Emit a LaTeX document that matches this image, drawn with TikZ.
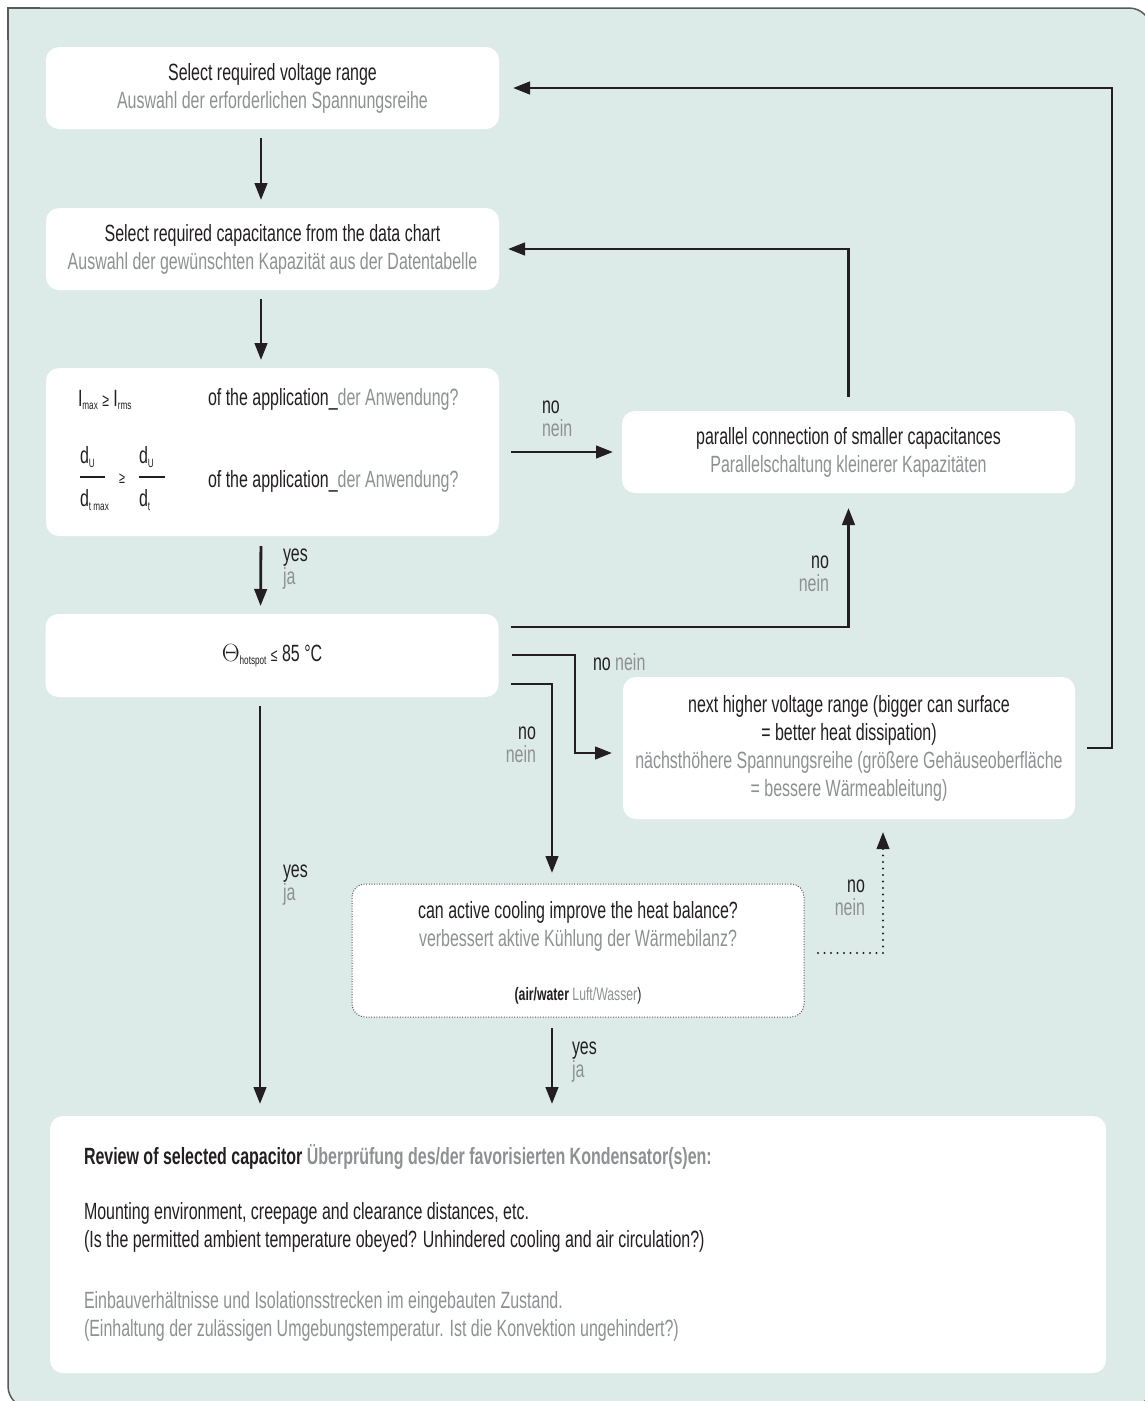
\documentclass[tikz,border=0pt]{standalone}
\usepackage{fontspec}
\setmainfont{Liberation Sans}[FakeStretch=0.68]
\usetikzlibrary{arrows.meta,calc}
\definecolor{panel}{HTML}{DDEBE8}
\definecolor{ink}{HTML}{231F20}
\definecolor{gr}{HTML}{8D9191}
\definecolor{frame}{HTML}{58595B}
\newcommand\mysub[1]{\raisebox{-3.5pt}{\fontsize{12}{12}\selectfont #1}}
\newcommand\gry[1]{\textcolor{gr}{#1}}
\begin{document}
\begin{tikzpicture}[x=1pt,y=-1pt,
  every node/.style={inner sep=0pt, outer sep=0pt, text=ink, font=\fontsize{23.5}{28}\selectfont},
  box/.style={fill=white, rounded corners=13pt, minimum width=453pt, align=center},
  dotbox/.style={box, draw=ink!75, dash pattern=on 1pt off 1.6pt, line width=1pt},
  arr/.style={draw=ink, line width=2.8pt, -{Triangle[width=12.5pt,length=17pt]}},
  dotarr/.style={draw=ink, line width=2.4pt, line cap=round, dash pattern=on 0pt off 6.5pt, -{Triangle[width=12.5pt,length=17pt]}},
  lbl/.style={align=left, font=\fontsize{23.5}{23}\selectfont},
  lblr/.style={align=right, font=\fontsize{23.5}{23}\selectfont},
  small/.style={font=\fontsize{18}{20}\selectfont}
]
\useasboundingbox (0,0) rectangle (1144,1401);
% panel
\draw[draw=frame, fill=panel, line width=1.5pt, rounded corners=22pt] (8,8) rectangle (1151,1408);
\fill[panel] (8.8,8.8) rectangle (40,40);
\draw[frame, line width=1.5pt] (8,40) -- (8,8) -- (40,8);

% boxes
\node[box, minimum height=82pt] (A) at (272.5,88) {Select required voltage range\\\gry{Auswahl der erforderlichen Spannungsreihe}};
\node[box, minimum height=82pt] (B) at (272.5,249) {Select required capacitance from the data chart\\\gry{Auswahl der gewünschten Kapazität aus der Datentabelle}};
\node[box, minimum height=168pt] (C) at (272.5,452) {};
\node[box, minimum height=82pt] (D) at (848.5,452) {parallel connection of smaller capacitances\\\gry{Parallelschaltung kleinerer Kapazitäten}};
\node[box, minimum height=83pt] (F) at (272,655.5) {$\Theta$\mysub{hotspot} {\fontsize{18}{20}\selectfont ≤} 85 °C};
\node[box, minimum height=142pt, minimum width=452pt] (E) at (849,748) {next higher voltage range (bigger can surface\\= better heat dissipation)\\\gry{nächsthöhere Spannungsreihe (größere Gehäuseoberfläche}\\\gry{= bessere Wärmeableitung)}};
\node[dotbox, minimum width=452pt, minimum height=133pt] (G) at (578,950.5) {};
\node[box, minimum width=1056pt, minimum height=257pt] (H) at (578,1244.5) {};

% content of C
\node[anchor=west] (c1) at (78,400) {I\mysub{max} {\fontsize{18}{20}\selectfont ≥} I\mysub{rms}};
\node[anchor=west] (c2) at (208,399) {of the application\_\gry{der Anwendung?}};
\node[anchor=west] (n1) at (80,457) {d\mysub{U}};
\node[anchor=west] (d1) at (80,500) {d\mysub{t max}};
\node (ge) at (122,479) {\fontsize{16}{18}\selectfont ≥};
\node[anchor=west] (n2) at (139,457) {d\mysub{U}};
\node[anchor=west] (d2) at (139,500) {d\mysub{t}};
\draw[ink, line width=2pt] (80,477) -- (105,477);
\draw[ink, line width=2pt] (139,477) -- (165,477);
\node[anchor=west] (c3) at (208,481) {of the application\_\gry{der Anwendung?}};

% content of G
\node[align=center] (g1) at (578,926) {can active cooling improve the heat balance?\\\gry{verbessert aktive Kühlung der Wärmebilanz?}};
\node[small] (g2) at (578,996) {\textbf{(air/water} \gry{Luft/Wasser})};

% content of H
\node[anchor=west] (h1) at (84,1157) {\textbf{Review of selected capacitor \gry{Überprüfung des/der favorisierten Kondensator(s)en:}}};
\node[anchor=west, align=left] (h2) at (84,1227.5) {Mounting environment, creepage and clearance distances, etc.\\(Is the permitted ambient temperature obeyed? Unhindered cooling and air circulation?)};
\node[anchor=west, align=left, text=gr] (h3) at (84,1316) {Einbauverhältnisse und Isolationsstrecken im eingebauten Zustand.\\(Einhaltung der zulässigen Umgebungstemperatur. Ist die Konvektion ungehindert?)};

% bend points
\coordinate (b1) at (575,655);
\coordinate (b2) at (575,753);
\coordinate (b3) at (552,684);
\coordinate (b4) at (883,953);
\coordinate (b5) at (1112,747);

% connectors
\draw[arr, shorten <=9pt, shorten >=8pt] ([xshift=-11.5pt]A.south) -- ([xshift=-11.5pt]B.north);
\draw[arr, shorten <=9pt, shorten >=8pt] ([xshift=-11.5pt]B.south) -- ([xshift=-11.5pt]C.north);
\draw[arr, shorten <=10pt, shorten >=8pt] ([xshift=-11.5pt]C.south) -- ([xshift=-11.5pt]F.north);
\draw[arr, shorten <=12pt, shorten >=9pt] (C.east) -- (D.west);
\draw[arr, shorten <=14pt, shorten >=9pt] (D.north) -- (D.north |- B.east) -- (B.east);
\draw[arr, shorten <=12pt, shorten >=15pt] ([yshift=28.5pt]F.east) -- ([yshift=28.5pt]F.east -| D.south) -- (D.south);
\draw[arr, shorten <=13.5pt, shorten >=11pt] ([yshift=0.5pt]F.east) -- (b1) -- (b2) -- (b2 -| E.west);
\draw[arr, shorten <=12pt, shorten >=11pt] ([yshift=-28.5pt]F.east) -- (b3) -- (b3 |- G.north);
\draw[arr, shorten <=9pt, shorten >=12pt] ([xshift=-12pt]F.south) -- ([xshift=-12pt]F.south |- H.north);
\draw[arr, shorten <=11pt, shorten >=12pt] ([xshift=-26pt]G.south) -- ([xshift=-26pt]G.south |- H.north);
\draw[dotarr, shorten <=14pt, shorten >=13pt] ([yshift=-2.5pt]G.east) -- (b4) -- (b4 |- E.south);
\draw[arr, shorten <=12pt, shorten >=14pt] (E.east) -- (E.east -| b5) -- (b5 |- A.east) -- (A.east);

% labels
\node[lbl, anchor=west] (l1) at (283,569.5) {yes\\\gry{ja}};
\node[lbl, anchor=west] (l2) at (542,419) {no\\\gry{nein}};
\node[lblr, anchor=east] (l3) at (829,574) {no\\\gry{nein}};
\node[lbl, anchor=west] (l4) at (593,662) {no \gry{nein}};
\node[lblr, anchor=east] (l5) at (536,745) {no\\\gry{nein}};
\node[lbl, anchor=west] (l6) at (283,885) {yes\\\gry{ja}};
\node[lblr, anchor=east] (l7) at (865,898) {no\\\gry{nein}};
\node[lbl, anchor=west] (l8) at (572,1062) {yes\\\gry{ja}};
\end{tikzpicture}
\end{document}
